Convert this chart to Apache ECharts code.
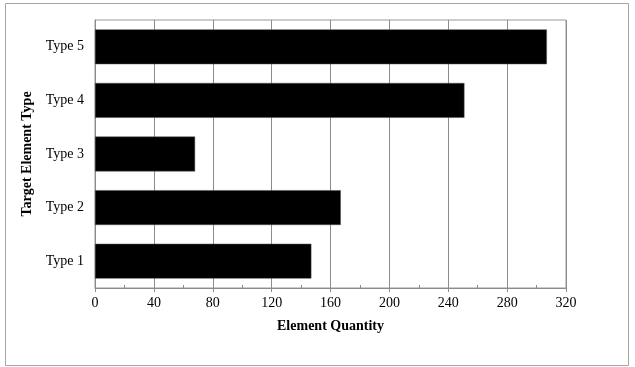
<!DOCTYPE html>
<html>
<head>
<meta charset="utf-8">
<script src="https://cdn.jsdelivr.net/npm/echarts@6/dist/echarts.min.js"></script>
<style>
html,body{margin:0;padding:0;background:#fff;}
#c{width:635px;height:367px;}
</style>
</head>
<body>
<div id="c"></div>
<script>
var categories = ["Type 1", "Type 2", "Type 3", "Type 4", "Type 5"];
var quantities = [147, 167, 68, 251, 307];
var xMin = 0, xMax = 320, xStep = 40;

var font = '"Liberation Serif", "Times New Roman", serif';
var chart = echarts.init(document.getElementById('c'), null, {renderer: 'canvas'});
chart.setOption({
  animation: false,
  backgroundColor: '#ffffff',
  graphic: [{
    type: 'rect',
    shape: {x: 5.5, y: 3.5, width: 623, height: 362},
    style: {fill: 'none', stroke: '#a6a6a6', lineWidth: 1},
    silent: true, z: -1
  }],
  grid: {left: 95, right: 69, top: 20, bottom: 79, show: true, borderColor: '#999999', borderWidth: 1, backgroundColor: 'transparent'},
  xAxis: [{
    type: 'value', min: xMin, max: xMax, interval: xStep,
    name: 'Element Quantity', nameLocation: 'middle', nameGap: 31,
    nameTextStyle: {fontFamily: font, fontWeight: 'bold', fontSize: 14, color: '#000'},
    axisLine: {show: true, lineStyle: {color: '#8c8c8c', width: 1}},
    axisTick: {show: true, inside: false, length: 4, lineStyle: {color: '#8c8c8c'}},
    axisLabel: {fontFamily: font, fontSize: 14, color: '#000', margin: 8},
    splitLine: {show: true, lineStyle: {color: '#8c8c8c', width: 1}}
  }, {
    type: 'value', min: xMin, max: xMax, interval: xStep / 2, position: 'bottom',
    axisLine: {show: false},
    axisTick: {show: true, inside: true, length: 3, lineStyle: {color: '#8c8c8c'}},
    axisLabel: {show: false},
    splitLine: {show: false}
  }],
  yAxis: {
    type: 'category', data: categories,
    name: 'Target Element Type', nameLocation: 'middle', nameGap: 60, nameRotate: 90,
    nameTextStyle: {fontFamily: font, fontWeight: 'bold', fontSize: 14, color: '#000'},
    axisLine: {show: true, lineStyle: {color: '#8c8c8c', width: 1}},
    axisTick: {show: false},
    axisLabel: {fontFamily: font, fontSize: 14, color: '#000', margin: 11},
    splitLine: {show: false}
  },
  series: [{
    type: 'bar', data: quantities, xAxisIndex: 0,
    barCategoryGap: '35%',
    itemStyle: {color: '#000000', borderColor: '#555', borderWidth: 0.5}
  }]
});
</script>
</body>
</html>
